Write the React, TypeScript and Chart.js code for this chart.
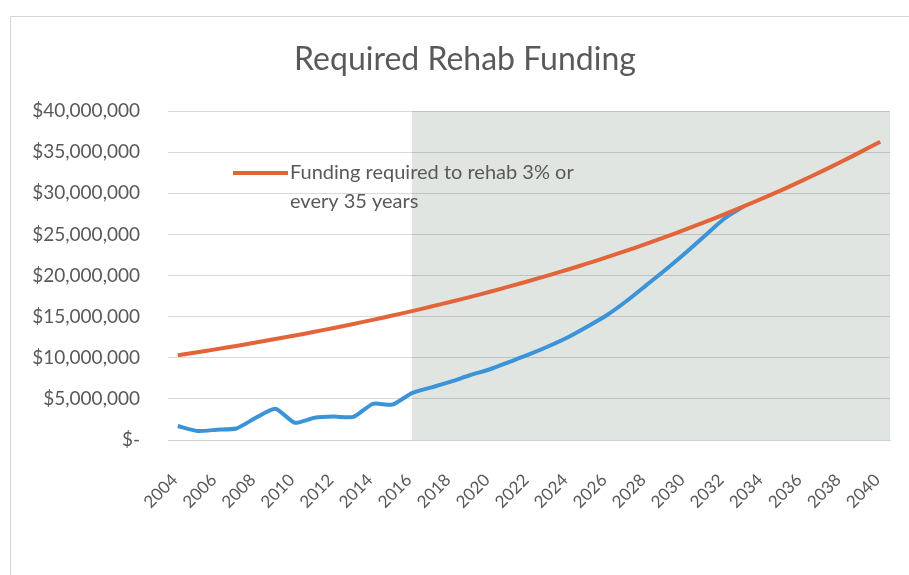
import React, { useEffect, useRef } from "react";
import { Chart, registerables } from "chart.js";

Chart.register(...registerables);

const TITLE = "Required Rehab Funding";

const YEARS = [
  "2004", "2005", "2006", "2007", "2008", "2009", "2010", "2011", "2012", "2013",
  "2014", "2015", "2016", "2017", "2018", "2019", "2020", "2021", "2022", "2023",
  "2024", "2025", "2026", "2027", "2028", "2029", "2030", "2031", "2032", "2033",
  "2034", "2035", "2036", "2037", "2038", "2039", "2040",
];

// Funding required to rehab 3% or every 35 years (dollars)
const REQUIRED = [
  10300000, 10670000, 11050000, 11440000, 11850000, 12270000, 12700000, 13160000, 13620000, 14110000,
  14610000, 15130000, 15670000, 16230000, 16810000, 17400000, 18020000, 18670000, 19330000, 20020000,
  20730000, 21470000, 22230000, 23020000, 23840000, 24690000, 25570000, 26480000, 27420000, 28400000,
  29410000, 30450000, 31540000, 32660000, 33820000, 35030000, 36270000,
];

// Actual / projected rehab funding (dollars)
const PROJECTED = [
  1700000, 1100000, 1250000, 1400000, 2700000, 3800000, 2100000, 2700000, 2850000, 2800000,
  4400000, 4300000, 5700000, 6400000, 7100000, 7900000, 8600000, 9500000, 10400000, 11400000,
  12500000, 13800000, 15200000, 16900000, 18800000, 20700000, 22700000, 24800000, 26900000, 28400000,
  null, null, null, null, null, null, null,
];

const LEGEND_LINES = ["Funding required to rehab 3% or", "every 35 years"];
const SHADE_START = "2016";

const Y_MIN = 0;
const Y_MAX = 40000000;
const Y_STEP = 5000000;

const ORANGE = "#e4643a";
const BLUE = "#3b93d8";
const SHADE = "#e1e5e2";
const TEXT = "#595959";
const FONT = "Lato, 'Open Sans', sans-serif";

const framePlugin = {
  id: "frameAndShade",
  beforeDraw(chart: any) {
    const { ctx, chartArea, scales } = chart;
    ctx.save();
    ctx.fillStyle = "#ffffff";
    ctx.fillRect(0, 0, chart.width, chart.height);
    ctx.strokeStyle = "#d6d6d6";
    ctx.lineWidth = 1;
    ctx.beginPath();
    ctx.moveTo(10.5, chart.height + 2);
    ctx.lineTo(10.5, 16.5);
    ctx.lineTo(chart.width + 2, 16.5);
    ctx.stroke();
    const x0 = scales.x.getPixelForValue(YEARS.indexOf(SHADE_START));
    ctx.fillStyle = SHADE;
    ctx.fillRect(x0, chartArea.top, chartArea.right - x0, chartArea.bottom - chartArea.top);
    ctx.restore();
  },
};

const titleLegendPlugin = {
  id: "titleAndLegend",
  afterDatasetsDraw(chart: any) {
    const { ctx, chartArea } = chart;
    ctx.save();
    // title
    ctx.fillStyle = TEXT;
    ctx.font = `32px ${FONT}`;
    ctx.textAlign = "center";
    ctx.textBaseline = "middle";
    ctx.fillText(TITLE, 465, 60);
    // legend
    const x = chartArea.left + 65;
    const y = chartArea.top + 62;
    ctx.strokeStyle = ORANGE;
    ctx.lineWidth = 4;
    ctx.lineCap = "butt";
    ctx.beginPath();
    ctx.moveTo(x, y);
    ctx.lineTo(x + 55, y);
    ctx.stroke();
    ctx.font = `20px ${FONT}`;
    ctx.textAlign = "left";
    LEGEND_LINES.forEach((line, i) => ctx.fillText(line, x + 57, y + i * 29));
    ctx.restore();
  },
};

export default function App() {
  const ref = useRef<HTMLCanvasElement>(null);

  useEffect(() => {
    document.body.style.margin = "0";
    const canvas = ref.current;
    if (!canvas) return;
    const chart = new Chart(canvas, {
      type: "line",
      data: {
        labels: YEARS,
        datasets: [
          {
            label: LEGEND_LINES.join(" "),
            data: REQUIRED,
            borderColor: ORANGE,
            borderWidth: 4,
            pointRadius: 0,
            tension: 0.3,
            fill: false,
            order: 0,
          },
          {
            label: "Projected funding",
            data: PROJECTED,
            borderColor: BLUE,
            borderWidth: 4,
            pointRadius: 0,
            tension: 0.2,
            fill: false,
            order: 1,
          },
        ],
      },
      options: {
        responsive: false,
        animation: false,
        devicePixelRatio: 1,
        layout: { padding: { left: 0, right: 19, top: 111, bottom: 0 } },
        plugins: {
          legend: { display: false },
          tooltip: { enabled: false },
          title: { display: false },
        },
        scales: {
          x: {
            offset: true,
            grid: { display: false },
            border: { display: true, color: "#d0d0d0", width: 1 },
            ticks: {
              autoSkip: false,
              maxRotation: 45,
              minRotation: 45,
              padding: 22,
              labelOffset: -3,
              color: TEXT,
              font: { family: FONT, size: 17 },
              callback: (_v: any, i: number) => (i % 2 === 0 ? YEARS[i] : null),
            },
            afterFit: (scale: any) => {
              scale.height = 135;
              scale.paddingLeft = 0;
              scale.paddingRight = 0;
            },
          },
          y: {
            min: Y_MIN,
            max: Y_MAX,
            grid: { color: "rgba(0,0,0,0.15)", drawTicks: false },
            border: { display: false },
            ticks: {
              stepSize: Y_STEP,
              padding: 28,
              color: TEXT,
              font: { family: FONT, size: 19 },
              callback: (v: any) => (Number(v) === 0 ? "$-" : "$" + Number(v).toLocaleString("en-US")),
            },
            afterFit: (scale: any) => {
              scale.width = 168;
              scale.paddingTop = 0;
              scale.paddingBottom = 0;
            },
          },
        },
      },
      plugins: [framePlugin, titleLegendPlugin],
    });
    return () => chart.destroy();
  }, []);

  return <canvas ref={ref} width={909} height={575} style={{ display: "block" }} />;
}
